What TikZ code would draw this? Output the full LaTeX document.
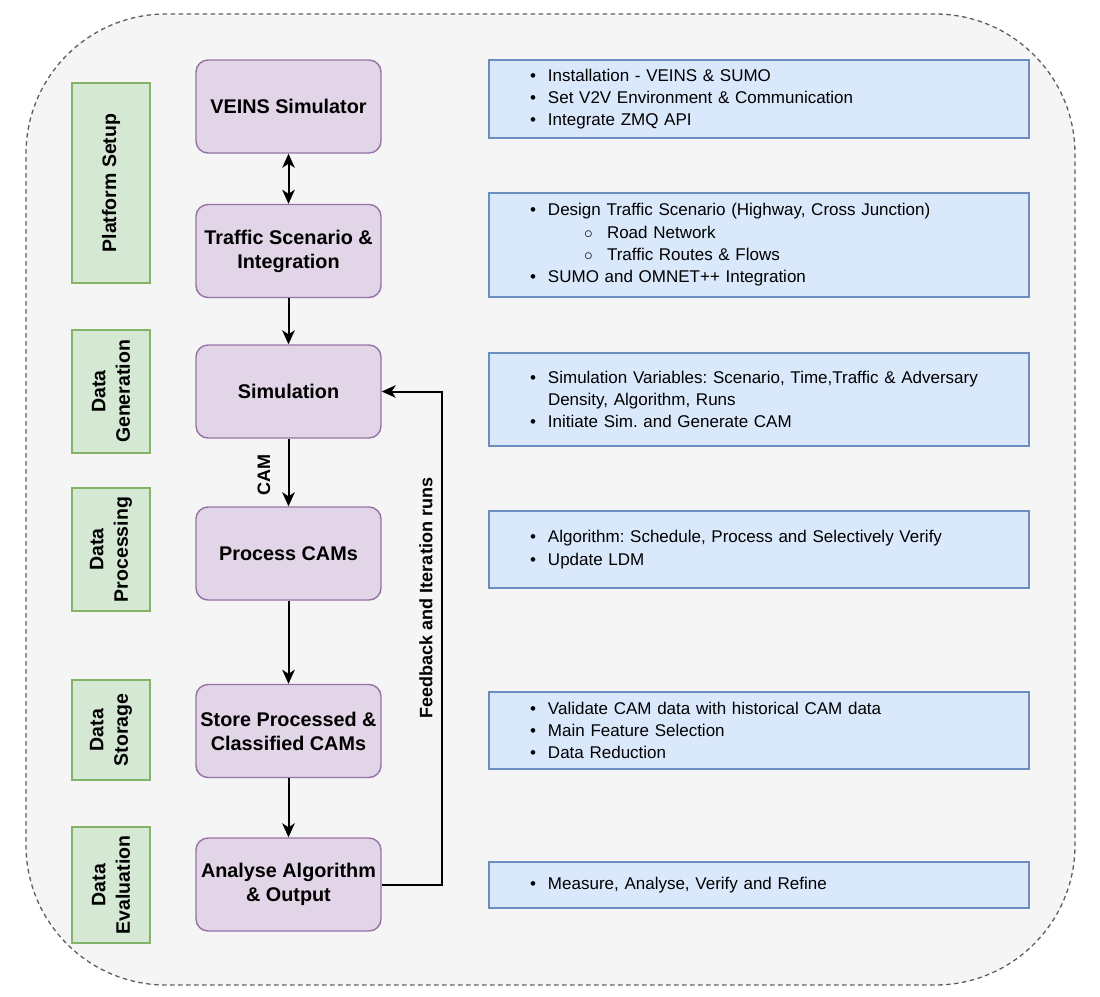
\documentclass[tikz,border=0pt]{standalone}
\usepackage{fontspec}
\setmainfont{Liberation Sans}
\usetikzlibrary{arrows.meta}
\definecolor{bgc}{HTML}{F5F5F5}
\definecolor{framec}{HTML}{5E5E5E}
\definecolor{purfill}{HTML}{E1D5E7}
\definecolor{purline}{HTML}{9673A6}
\definecolor{grnfill}{HTML}{D5E8D4}
\definecolor{grnline}{HTML}{82B366}
\definecolor{bluefill}{HTML}{DAE8FC}
\definecolor{blueline}{HTML}{6C8EBF}
\newcommand{\bit}{\makebox[18pt][l]{\textbullet}}
\newcommand{\sbit}{\hspace*{54pt}\makebox[23pt][l]{$\circ$}}
\tikzset{
  frame/.style={draw=framec, fill=bgc, line width=1.3pt, dash pattern=on 4.5pt off 3.5pt, rounded corners=140pt, minimum width=1049pt, minimum height=971pt, inner sep=0pt},
  purbox/.style={draw=purline, fill=purfill, line width=1.4pt, rounded corners=12pt, minimum width=185pt, minimum height=93pt, align=center, inner sep=0pt, font=\fontsize{19.8}{24}\selectfont\bfseries},
  grnbox/.style={draw=grnline, fill=grnfill, line width=1.4pt, minimum width=78pt, inner sep=0pt},
  grntext/.style={rotate=90, align=center, font=\fontsize{19.5}{24.5}\selectfont\bfseries},
  bluebox/.style={draw=blueline, fill=bluefill, line width=1.4pt, minimum width=540pt, text width=458pt, inner xsep=41pt, inner ysep=0pt, align=left, font=\fontsize{17}{22.3}\selectfont},
  arr/.style={line width=2pt, -{Stealth[length=14pt,width=12.5pt,inset=4pt]}},
  darr/.style={line width=2pt, {Stealth[length=14pt,width=12.5pt,inset=4pt]}-{Stealth[length=14pt,width=12.5pt,inset=4pt]}},
  elabel/.style={rotate=90, font=\fontsize{18}{22}\selectfont\bfseries, inner sep=0pt}
}
\begin{document}
\frenchspacing
\begin{tikzpicture}[x=1pt,y=-1pt]
\useasboundingbox (0,0) rectangle (1100,996);
\fill[white] (0,0) rectangle (1100,996);
\node[frame] (frame) at (550.5,499.5) {};

% green phase labels
\node[grnbox, minimum height=200pt] (g1) at (111,183) {};
\node[grntext] (g1t) at (g1) {Platform Setup};
\node[grnbox, minimum height=123pt] (g2) at (111,391.5) {};
\node[grntext] (g2t) at (g2) {Data\\Generation};
\node[grnbox, minimum height=123pt] (g3) at (111,549.5) {};
\node[grntext] (g3t) at (g3) {Data\\Processing};
\node[grnbox, minimum height=100pt] (g4) at (111,730) {};
\node[grntext] (g4t) at (g4) {Data\\Storage};
\node[grnbox, minimum height=116pt] (g5) at (111,885) {};
\node[grntext] (g5t) at (g5) {Data\\Evaluation};

% purple process boxes
\node[purbox] (veins) at (288.5,106.5) {VEINS Simulator};
\node[purbox] (traffic) at (288.5,251) {Traffic Scenario \&\\Integration};
\node[purbox] (sim) at (288.5,391.5) {Simulation};
\node[purbox] (proc) at (288.5,553.5) {Process CAMs};
\node[purbox] (store) at (288.5,731) {Store Processed \&\\Classified CAMs};
\node[purbox] (ana) at (288.5,884.5) {Analyse Algorithm\\\& Output};

% blue description boxes
\node[bluebox, minimum height=78pt] (b1) at (759,99) {\bit Installation - VEINS \& SUMO\\\bit Set V2V Environment \& Communication\\\bit Integrate ZMQ API};
\node[bluebox, minimum height=104pt] (b2) at (759,245) {\bit Design Traffic Scenario (Highway, Cross Junction)\\\sbit Road Network\\\sbit Traffic Routes \& Flows\\\bit SUMO and OMNET++ Integration};
\node[bluebox, minimum height=93pt] (b3) at (759,399.5) {\bit Simulation Variables: Scenario, Time,Traffic \& Adversary\\\hspace*{18pt}Density, Algorithm, Runs\\\bit Initiate Sim. and Generate CAM};
\node[bluebox, minimum height=77pt] (b4) at (759,549.5) {\bit Algorithm: Schedule, Process and Selectively Verify\\\bit Update LDM};
\node[bluebox, minimum height=77pt] (b5) at (759,730.5) {\bit Validate CAM data with historical CAM data\\\bit Main Feature Selection\\\bit Data Reduction};
\node[bluebox, minimum height=46pt] (b6) at (759,885) {\bit Measure, Analyse, Verify and Refine};

% connectors
\draw[darr] (veins) -- (traffic);
\draw[arr] (traffic) -- (sim);
\draw[arr] (sim) -- (proc);
\node[elabel] (camlbl) at (264,475) {CAM};
\draw[arr] (proc) -- (store);
\draw[arr] (store) -- (ana);
\coordinate (fb) at (442,884.5);
\draw[arr] (ana.east) -- (fb) |- (sim.east);
\node[elabel] (fblbl) at (426,598) {Feedback and Iteration runs};
\end{tikzpicture}
\end{document}
